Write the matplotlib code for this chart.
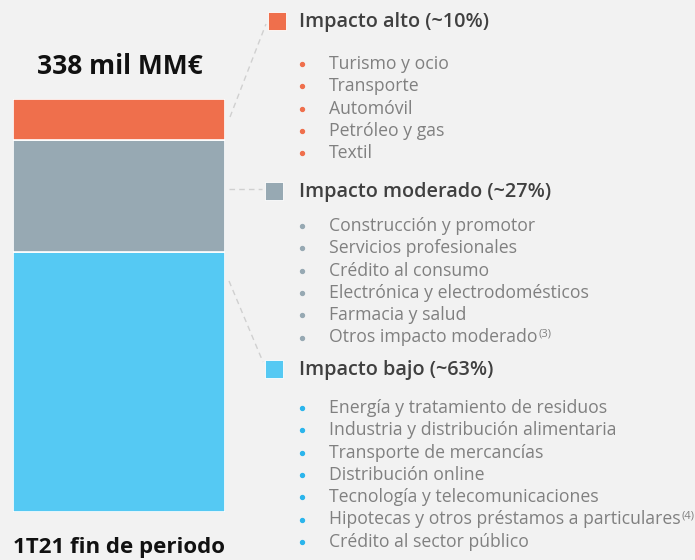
import matplotlib.pyplot as plt

# cartera por nivel de impacto (% del total)
segments = ["Impacto bajo", "Impacto moderado", "Impacto alto"]
shares = [63, 27, 10]
colors = ["#55c9f3", "#97a9b3", "#ef6f4c"]
bullet_colors = ["#2bb5ec", "#97a9b3", "#ef6f4c"]

headers = ["Impacto bajo (~63%)", "Impacto moderado (~27%)", "Impacto alto (~10%)"]
items_alto = ["Turismo y ocio", "Transporte", "Automóvil", "Petróleo y gas", "Textil"]
items_moderado = ["Construcción y promotor", "Servicios profesionales", "Crédito al consumo",
                  "Electrónica y electrodomésticos", "Farmacia y salud",
                  ("Otros impacto moderado", "(3)")]
items_bajo = ["Energía y tratamiento de residuos", "Industria y distribución alimentaria",
              "Transporte de mercancías", "Distribución online",
              "Tecnología y telecomunicaciones",
              ("Hipotecas y otros préstamos a particulares", "(4)"),
              "Crédito al sector público"]
total_label = "338 mil MM€"
period_label = "1T21 fin de periodo"

plt.rcParams["font.family"] = ["Open Sans", "DejaVu Sans"]

W, H = 695, 560
bg = "#f2f2f2"
fig = plt.figure(figsize=(W / 100, H / 100), dpi=100, facecolor=bg)

# barra apilada
bar_ax = fig.add_axes([13 / W, (H - 512) / H, 212 / W, 413 / H])
bar_ax.set_facecolor(bg)
bottom = 0
for val, col in zip(shares, colors):
    bar_ax.bar(0, val, bottom=bottom, width=1, color=col, edgecolor="white", linewidth=1.2)
    bottom += val
bar_ax.set_xlim(-0.5, 0.5)
bar_ax.set_ylim(0, sum(shares))
bar_ax.axis("off")

# capa de texto en coordenadas de píxel
ax = fig.add_axes([0, 0, 1, 1])
ax.set_xlim(0, W)
ax.set_ylim(H, 0)
ax.axis("off")
ax.patch.set_alpha(0)

ax.text(120, 66, total_label, ha="center", va="center", fontsize=19, fontweight="bold", color="#111111")
ax.text(119, 547, period_label, ha="center", va="center", fontsize=16, fontweight="bold", color="#111111")

# conectores
dash = dict(color="#d0d0d0", linewidth=1, linestyle=(0, (4, 3)))
ax.plot([230, 266], [117, 24], **dash)
ax.plot([229, 262], [189, 189], **dash)
ax.plot([229, 263], [281, 362], **dash)

renderer = fig.canvas.get_renderer()
groups = [
    (headers[2], items_alto, colors[2], bullet_colors[2], 277, 21, 64),
    (headers[1], items_moderado, colors[1], bullet_colors[1], 274, 191, 226),
    (headers[0], items_bajo, colors[0], bullet_colors[0], 274, 369, 408),
]
for head, items, col, bcol, sq_x, head_y, first_y in groups:
    ax.scatter([sq_x], [head_y], marker="s", s=150, color=col, edgecolors="white", linewidths=0.6)
    ax.text(299, head_y + 5.5, head, ha="left", va="baseline", fontsize=14.3,
            fontweight="semibold", color="#404040")
    for i, it in enumerate(items):
        y = first_y + i * 22.3
        note = None
        if isinstance(it, tuple):
            it, note = it
        ax.scatter([302], [y], s=8, color=bcol)
        t = ax.text(329, y + 5, it, ha="left", va="baseline", fontsize=12.7, color="#808080")
        if note:
            # nota al pie en superíndice pegada al final del texto
            x_end = t.get_window_extent(renderer).x1
            ax.text(x_end + 1, y - 1.5, note, ha="left", va="baseline", fontsize=8, color="#808080")

fig.savefig("out.png", dpi=100, facecolor=bg)
